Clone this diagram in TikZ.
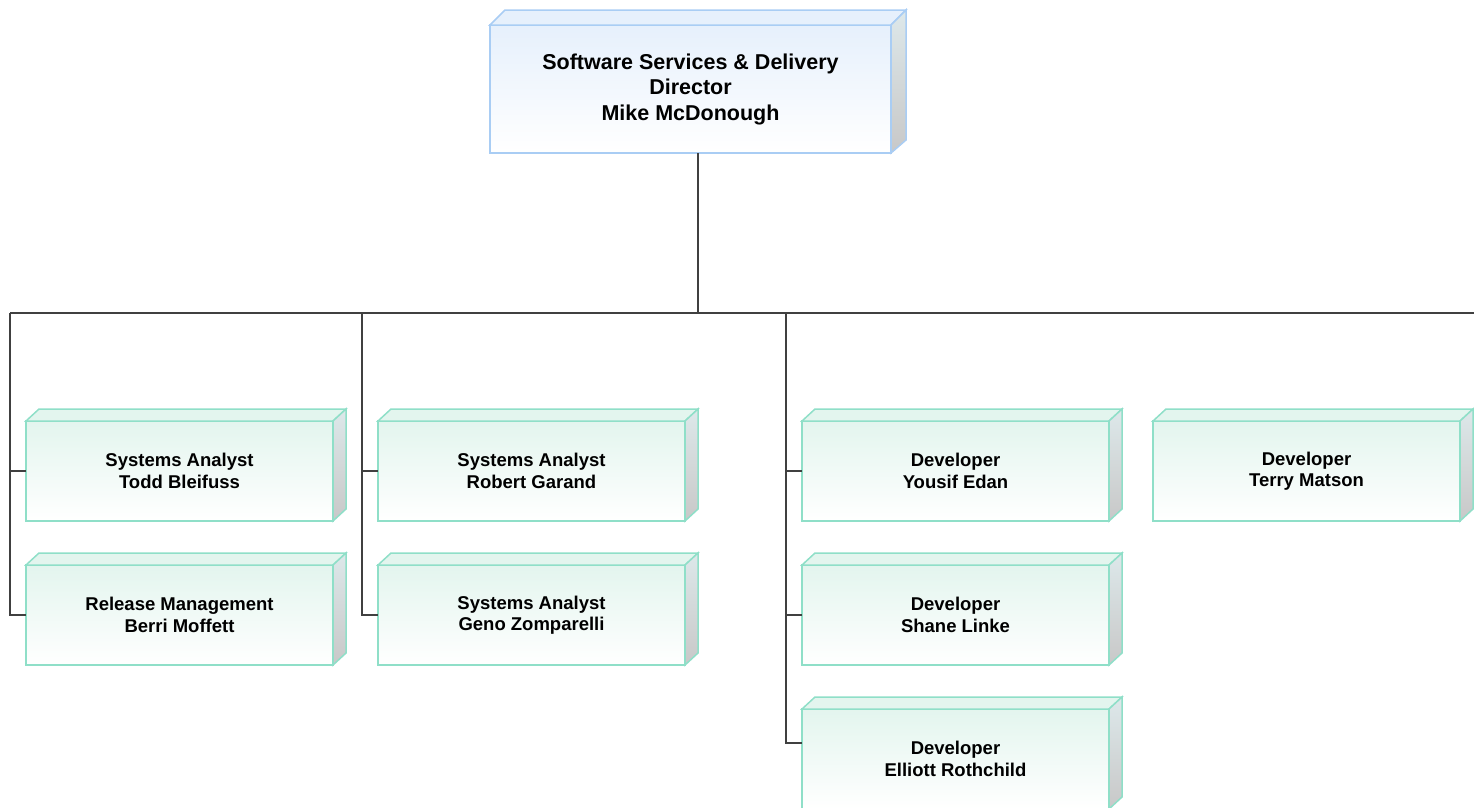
\documentclass[tikz,border=0pt]{standalone}
\usepackage{fontspec}
\setmainfont{Liberation Sans}
\usetikzlibrary{calc,positioning}
\definecolor{staffedge}{HTML}{8FDFC8}
\definecolor{stafftop}{HTML}{E3F5EE}
\definecolor{headedge}{HTML}{A9CDF4}
\definecolor{headtop}{HTML}{E6F0FC}
\definecolor{sidetop}{HTML}{DDE8EA}
\definecolor{sidebot}{HTML}{C8C8C8}
\definecolor{wiregray}{HTML}{404040}

\begin{document}
\begin{tikzpicture}[
        x=1pt, y=1pt,
        node distance=44pt and 45pt,
        staff/.style={rectangle, draw=staffedge, top color=stafftop, bottom color=white, line width=1.5pt, outer sep=0pt, minimum width=307pt, minimum height=100pt, align=center, font=\fontsize{18.5}{21.5}\selectfont\bfseries},
        head/.style={staff, draw=headedge, top color=headtop, minimum width=401pt, minimum height=128pt, font=\fontsize{21.5}{25.5}\selectfont\bfseries},
        wire/.style={draw=wiregray, line width=1.5pt}
    ]
        \useasboundingbox (0,0) rectangle (1474,-807);

        % Director
        \node (dir) [head] at (690.5,-89) {Software Services \& Delivery\\Director\\Mike McDonough};
        \fill[headtop, draw=headedge, line width=1.5pt] (dir.north west) -- ++(15,15) -- ($(dir.north east)+(15,15)$) -- (dir.north east) -- cycle;
        \shade[top color=sidetop, bottom color=sidebot, draw=headedge, line width=1.5pt] (dir.north east) -- ++(15,15) -- ($(dir.south east)+(15,13)$) -- (dir.south east) -- cycle;

        % Staff
        \node (ana1) [staff] at (179.5,-471) {Systems Analyst\\Todd Bleifuss};
        \node (rel) [staff, below=of ana1] {Release Management\\Berri Moffett};
        \node (ana2) [staff, right=of ana1] {Systems Analyst\\Robert Garand};
        \node (ana3) [staff, below=of ana2] {Systems Analyst\\Geno Zomparelli};
        \node (dev1) [staff, right=117pt of ana2] {Developer\\Yousif Edan};
        \node (dev2) [staff, below=of dev1] {Developer\\Shane Linke};
        \node (dev3) [staff, below=of dev2] {Developer\\Elliott Rothchild};
        \node (dev4) [staff, right=44pt of dev1] {Developer\\Terry Matson};

        \foreach \n in {ana1,rel,ana2,ana3,dev1,dev2,dev3,dev4} {
            \fill[stafftop, draw=staffedge, line width=1.5pt] (\n.north west) -- ++(13,12) -- ($(\n.north east)+(13,12)$) -- (\n.north east) -- cycle;
            \shade[top color=sidetop, bottom color=sidebot, draw=staffedge, line width=1.5pt] (\n.north east) -- ++(13,12) -- ($(\n.south east)+(13,12)$) -- (\n.south east) -- cycle;
        }

        % Connectors
        \coordinate (hub) at (698,-313);
        \coordinate (busL) at (10,-313);
        \coordinate (busM) at (362,-313);
        \coordinate (busD) at (786,-313);
        \coordinate (busR) at (1474,-313);

        \draw[wire] (dir.south -| hub) -- (hub);
        \draw[wire] (busL) -- (busR);
        \draw[wire] (busL) |- (rel.west);
        \draw[wire] (ana1.west) -- (ana1.west -| busL);
        \draw[wire] (busM) |- (ana3.west);
        \draw[wire] (ana2.west) -- (ana2.west -| busM);
        \draw[wire] (busD) |- ([yshift=16pt]dev3.west);
        \draw[wire] (dev1.west) -- (dev1.west -| busD);
        \draw[wire] (dev2.west) -- (dev2.west -| busD);
    \end{tikzpicture}
\end{document}
